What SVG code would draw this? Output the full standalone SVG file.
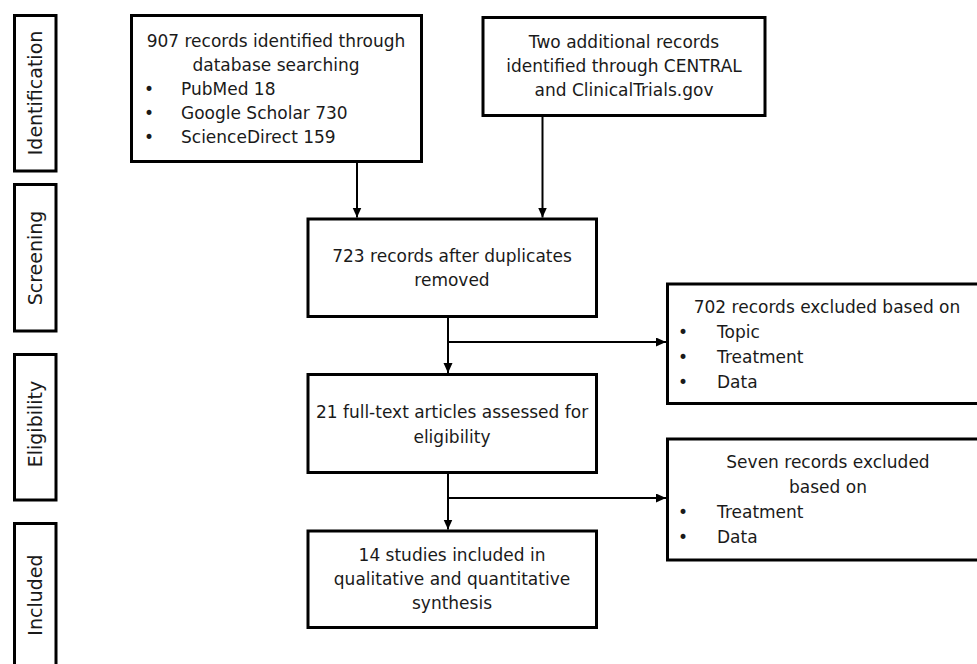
<svg xmlns="http://www.w3.org/2000/svg" width="977" height="664" viewBox="0 0 977 664">
<style>
.box{fill:#fff;stroke:#000;stroke-width:3}
.t{font-family:"DejaVu Sans",sans-serif;font-size:17px;fill:#1a1a1a}
.c{text-anchor:middle}
.ph{font-family:"DejaVu Sans",sans-serif;font-size:19px;fill:#1a1a1a;text-anchor:middle}
.ln{fill:none;stroke:#000;stroke-width:2}
</style>
<defs>
<marker id="ah" markerUnits="userSpaceOnUse" markerWidth="11" markerHeight="10" refX="10" refY="4.5" orient="auto">
<path d="M0,0 L10,4.5 L0,9 z" fill="#000"/>
</marker>
</defs>
<rect width="977" height="664" fill="#fff"/>

<g id="phase-identification">
<rect class="box" x="14.5" y="15.5" width="41.5" height="155.5"/>
<text class="ph" x="42" y="93" transform="rotate(-90 42 93)">Identification</text>
</g>
<g id="phase-screening">
<rect class="box" x="14.5" y="184.5" width="41.5" height="146.5"/>
<text class="ph" x="42" y="258" transform="rotate(-90 42 258)">Screening</text>
</g>
<g id="phase-eligibility">
<rect class="box" x="14.5" y="354.5" width="41.5" height="145.5"/>
<text class="ph" x="42" y="424" transform="rotate(-90 42 424)">Eligibility</text>
</g>
<g id="phase-included">
<rect class="box" x="14.5" y="523.5" width="41.5" height="150"/>
<text class="ph" x="42" y="595" transform="rotate(-90 42 595)">Included</text>
</g>

<g id="connectors">
<line class="ln" x1="357" y1="163" x2="357" y2="217.5" marker-end="url(#ah)"/>
<line class="ln" x1="542.5" y1="117" x2="542.5" y2="217.5" marker-end="url(#ah)"/>
<line class="ln" x1="448" y1="318" x2="448" y2="373" marker-end="url(#ah)"/>
<line class="ln" x1="447" y1="342" x2="666" y2="342" marker-end="url(#ah)"/>
<line class="ln" x1="448" y1="474" x2="448" y2="529.5" marker-end="url(#ah)"/>
<line class="ln" x1="447" y1="498" x2="666" y2="498" marker-end="url(#ah)"/>
</g>

<g id="node-database">
<rect class="box" x="131.5" y="15.5" width="290" height="146"/>
<text class="t c" x="276" y="47">907 records identified through</text>
<text class="t c" x="276" y="71">database searching</text>
<text class="t" x="144" y="95">•</text><text class="t" x="181" y="95">PubMed 18</text>
<text class="t" x="144" y="119">•</text><text class="t" x="181" y="119">Google Scholar 730</text>
<text class="t" x="144" y="143">•</text><text class="t" x="181" y="143">ScienceDirect 159</text>
</g>

<g id="node-additional">
<rect class="box" x="483" y="17.5" width="282" height="98"/>
<text class="t c" x="624" y="48">Two additional records</text>
<text class="t c" x="624" y="72">identified through CENTRAL</text>
<text class="t c" x="624" y="96">and ClinicalTrials.gov</text>
</g>

<g id="node-duplicates">
<rect class="box" x="308" y="219" width="288.5" height="97.5"/>
<text class="t c" x="452" y="262">723 records after duplicates</text>
<text class="t c" x="452" y="286">removed</text>
</g>

<g id="node-fulltext">
<rect class="box" x="308" y="374.5" width="288.5" height="98"/>
<text class="t c" x="452" y="418">21 full-text articles assessed for</text>
<text class="t c" x="452" y="443">eligibility</text>
</g>

<g id="node-included">
<rect class="box" x="308" y="531" width="288.5" height="96.5"/>
<text class="t c" x="452" y="561">14 studies included in</text>
<text class="t c" x="452" y="585">qualitative and quantitative</text>
<text class="t c" x="452" y="609">synthesis</text>
</g>

<g id="node-excluded-702">
<rect class="box" x="667.5" y="284" width="322" height="119.5"/>
<text class="t c" x="827" y="313">702 records excluded based on</text>
<text class="t" x="678" y="338">•</text><text class="t" x="717" y="338">Topic</text>
<text class="t" x="678" y="363">•</text><text class="t" x="717" y="363">Treatment</text>
<text class="t" x="678" y="388">•</text><text class="t" x="717" y="388">Data</text>
</g>

<g id="node-excluded-seven">
<rect class="box" x="667.5" y="439" width="322" height="121"/>
<text class="t c" x="828" y="468">Seven records excluded</text>
<text class="t c" x="828" y="493">based on</text>
<text class="t" x="678" y="518">•</text><text class="t" x="717" y="518">Treatment</text>
<text class="t" x="678" y="543">•</text><text class="t" x="717" y="543">Data</text>
</g>
</svg>
